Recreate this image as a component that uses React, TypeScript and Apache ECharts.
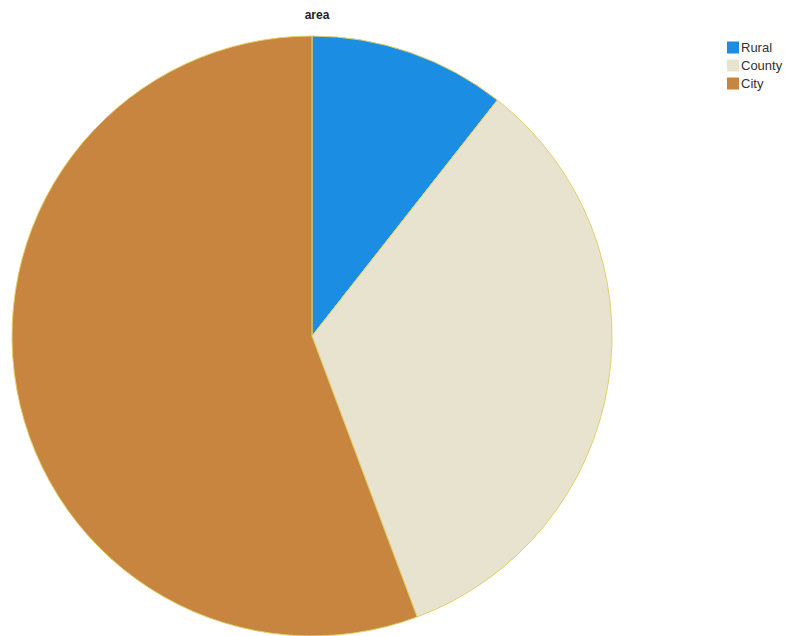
import React, { useEffect, useRef } from "react";
import * as echarts from "echarts";

const categories = ["Rural", "County", "City"];
const values = [10.6, 33.7, 55.7];
const colors = ["#1b8de2", "#e8e3cf", "#c8853f"];

export default function App() {
  const ref = useRef<HTMLDivElement>(null);
  useEffect(() => {
    const chart = echarts.init(ref.current!, null, { renderer: "svg" });
    chart.setOption({
      animation: false,
      backgroundColor: "#ffffff",
      title: {
        text: "area",
        left: 312,
        textAlign: "center",
        top: 4,
        textStyle: { fontSize: 12, fontWeight: "bold", color: "#222", fontFamily: "Liberation Sans" },
      },
      legend: {
        orient: "vertical",
        left: 722,
        top: 36,
        itemWidth: 12,
        itemHeight: 12,
        itemGap: 5,
        icon: "rect",
        itemStyle: { borderWidth: 0 },
        data: categories,
        textStyle: { fontSize: 13, color: "#333", fontFamily: "Liberation Sans", padding: [0, 0, 0, -3] },
      },
      series: [
        {
          type: "pie",
          center: [312, 336],
          radius: 300,
          startAngle: 90,
          clockwise: true,
          label: { show: false },
          labelLine: { show: false },
          itemStyle: { borderColor: "#e2d06a", borderWidth: 1 },
          data: categories.map((c, i) => ({ name: c, value: values[i], itemStyle: { color: colors[i] } })),
        },
      ],
    });
    return () => chart.dispose();
  }, []);
  return <div ref={ref} style={{ width: 797, height: 636, position: "absolute", left: 0, top: 0 }} />;
}
